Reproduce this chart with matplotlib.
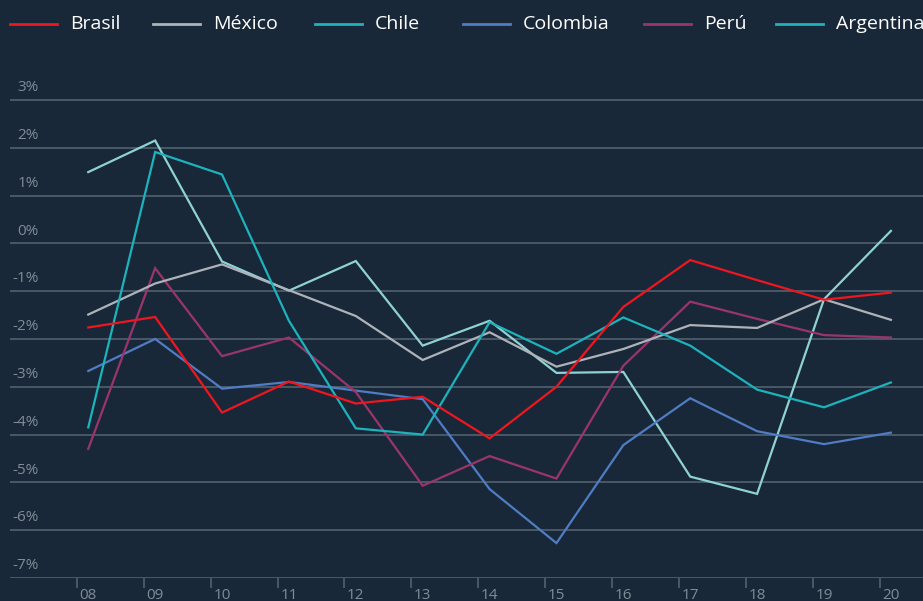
import numpy as np
import matplotlib
matplotlib.use("Agg")
import matplotlib.pyplot as plt
from matplotlib.lines import Line2D
from matplotlib.transforms import blended_transform_factory

years = ["08", "09", "10", "11", "12", "13", "14", "15", "16", "17", "18", "19", "20"]
brasil = [-1.76, -1.54, -3.54, -2.89, -3.35, -3.21, -4.08, -3.00, -1.33, -0.35, -0.77, -1.18, -1.03]
mexico = [-1.49, -0.84, -0.44, -0.98, -1.52, -2.44, -1.86, -2.58, -2.21, -1.71, -1.77, -1.17, -1.60]
chile = [-3.85, 1.91, 1.44, -1.62, -3.87, -4.00, -1.65, -2.31, -1.55, -2.14, -3.06, -3.43, -2.91]
colombia = [-2.67, -2.00, -3.04, -2.90, -3.08, -3.26, -5.14, -6.27, -4.22, -3.24, -3.93, -4.20, -3.96]
peru = [-4.30, -0.52, -2.36, -1.97, -3.11, -5.07, -4.45, -4.92, -2.56, -1.22, -1.58, -1.92, -1.97]
argentina = [1.49, 2.15, -0.38, -0.99, -0.37, -2.14, -1.62, -2.71, -2.69, -4.88, -5.24, -1.17, 0.26]
yticks = [3, 2, 1, 0, -1, -2, -3, -4, -5, -6, -7]

BG = "#192838"
GRID = "#4e5d6a"
TXT = "#808c97"

series = [
    ("Brasil", brasil, "#f0161f"),
    ("México", mexico, "#aeb3ba"),
    ("Chile", chile, "#1cb3bd"),
    ("Colombia", colombia, "#4f7cc4"),
    ("Perú", peru, "#9a356c"),
    ("Argentina", argentina, "#8fd2d4"),
]
# legend swatch colours (Argentina's swatch is teal in the original)
legend_cols = ["#f0161f", "#aeb3ba", "#1cb3bd", "#4f7cc4", "#9a356c", "#1cb3bd"]
legend_x = [10, 153, 315, 463, 644, 776]  # left edge of each swatch, px

plt.rcParams["font.family"] = ["Open Sans", "DejaVu Sans"]

W, H = 923, 601
fig = plt.figure(figsize=(W / 100, H / 100), dpi=100, facecolor=BG)
ax = fig.add_axes([10 / W, 23 / H, 913 / W, (578 - 76) / H])
ax.set_facecolor(BG)

x = np.arange(len(years))
for name, vals, col in [series[i] for i in (5, 3, 4, 1, 2, 0)]:
    ax.plot(x, vals, color=col, lw=1.6, solid_joinstyle="miter")

ax.set_xlim(-1.17, 12.48)
ax.set_ylim(-7, 3.5)

for v in yticks:
    ax.axhline(v, color=GRID, lw=1.3, zorder=0)
tr = blended_transform_factory(ax.transAxes, ax.transData)
for v in yticks:
    ax.text(29 / 913, v + 0.1, f"{v}%", transform=tr, ha="right", va="bottom",
            color=TXT, fontsize=11)

ax.set_yticks([])
ax.set_xticks(x)
ax.set_xticklabels(years)
ax.set_xticks(x - 0.17, minor=True)
ax.tick_params(axis="x", which="major", length=0, pad=7, labelcolor=TXT, labelsize=11)
ax.tick_params(axis="x", which="minor", length=7, width=1.3, color=GRID)
for s in ax.spines.values():
    s.set_visible(False)

# legend drawn by hand along the top
ly = 1 - 24 / H
for (name, _, _), col, lx in zip(series, legend_cols, legend_x):
    fig.add_artist(Line2D([lx / W, (lx + 47) / W], [ly, ly], color=col, lw=2,
                          transform=fig.transFigure))
    fig.text((lx + 60) / W, ly, name, color="white", fontsize=14,
             ha="left", va="center")

fig.savefig("out.png", dpi=100, facecolor=BG)
